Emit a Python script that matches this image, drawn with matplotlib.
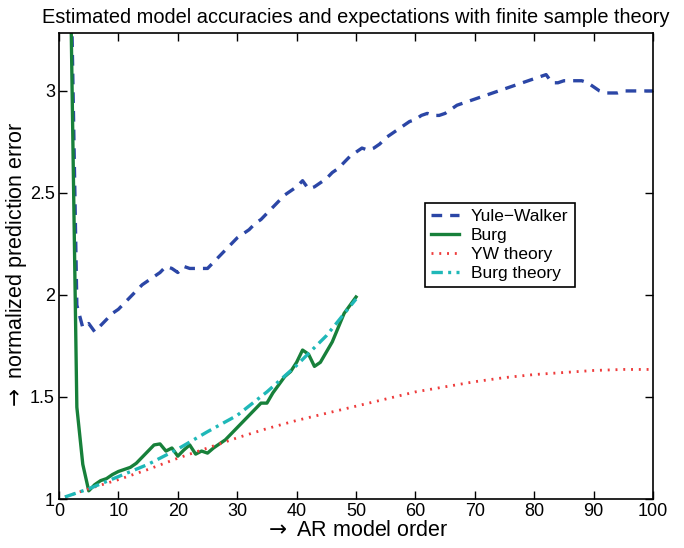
import matplotlib
matplotlib.use("Agg")
import matplotlib.pyplot as plt

plt.rcParams['font.family'] = ['Liberation Sans', 'DejaVu Sans']
plt.rcParams['mathtext.fontset'] = 'dejavusans'

# AR model orders
orders_yw = list(range(1, 101))
orders_burg = list(range(1, 51))

# Estimated normalized prediction error, Yule-Walker
yule_walker = [
    9.0, 3.6, 1.95, 1.84, 1.86, 1.82, 1.85, 1.88, 1.91, 1.93,
    1.96, 1.99, 2.02, 2.05, 2.07, 2.09, 2.11, 2.14, 2.13, 2.11,
    2.14, 2.13, 2.13, 2.13, 2.13, 2.16, 2.19, 2.22, 2.25, 2.28,
    2.30, 2.32, 2.35, 2.37, 2.40, 2.43, 2.46, 2.49, 2.51, 2.53,
    2.56, 2.52, 2.53, 2.55, 2.57, 2.60, 2.62, 2.65, 2.68, 2.70,
    2.72, 2.71, 2.72, 2.74, 2.77, 2.79, 2.81, 2.83, 2.85, 2.86,
    2.88, 2.89, 2.88, 2.88, 2.89, 2.91, 2.93, 2.94, 2.95, 2.96,
    2.97, 2.98, 2.99, 3.00, 3.01, 3.02, 3.03, 3.04, 3.05, 3.06,
    3.07, 3.08, 3.04, 3.04, 3.05, 3.05, 3.05, 3.05, 3.04, 3.02,
    3.00, 2.99, 2.99, 2.99, 3.00, 3.00, 3.00, 3.00, 3.00, 3.00,
]

# Estimated normalized prediction error, Burg
burg = [
    9.0, 3.4, 1.45, 1.17, 1.04, 1.07, 1.09, 1.10, 1.12, 1.135,
    1.145, 1.155, 1.175, 1.205, 1.235, 1.265, 1.27, 1.235, 1.25, 1.21,
    1.24, 1.265, 1.22, 1.235, 1.225, 1.25, 1.27, 1.29, 1.32, 1.35,
    1.38, 1.41, 1.44, 1.47, 1.47, 1.52, 1.56, 1.60, 1.625, 1.67,
    1.73, 1.71, 1.65, 1.67, 1.72, 1.77, 1.84, 1.91, 1.95, 1.99,
]

# Finite sample theory expectations
yw_theory_orders = [1, 5, 10, 15, 20, 25, 30, 35, 40, 45, 50,
                    55, 60, 65, 70, 75, 80, 85, 90, 95, 100]
yw_theory = [1.01, 1.05, 1.095, 1.145, 1.20, 1.25, 1.30, 1.345, 1.385, 1.42, 1.455,
             1.49, 1.525, 1.55, 1.575, 1.595, 1.61, 1.62, 1.63, 1.635, 1.635]

burg_theory_orders = [1, 5, 10, 15, 20, 25, 30, 35, 40, 45, 50]
burg_theory = [1.01, 1.05, 1.11, 1.17, 1.245, 1.33, 1.41, 1.525, 1.655, 1.80, 1.98]

x_ticks = [0, 10, 20, 30, 40, 50, 60, 70, 80, 90, 100]
y_ticks = [1, 1.5, 2, 2.5, 3]
y_tick_labels = ["1", "1.5", "2", "2.5", "3"]

fig = plt.figure(figsize=(6.84, 5.48), dpi=100)
ax = fig.add_axes([0.0863, 0.0894, 0.8684, 0.8504])

ax.plot(orders_yw, yule_walker, color='#2b46a6', lw=2.4,
        dashes=(3.2, 2.4), label='Yule\u2212Walker')
ax.plot(orders_burg, burg, color='#17803a', lw=2.4, label='Burg')
ax.plot(yw_theory_orders, yw_theory, color='#ee3b3b', lw=2.0,
        dashes=(0.7, 2.1), label='YW theory')
ax.plot(burg_theory_orders, burg_theory, color='#1fb8b8', lw=2.4,
        dashes=(3.4, 1.6, 0.9, 1.6), label='Burg theory')

ax.set_xlim(0, 100)
ax.set_ylim(1, 3.284)
ax.set_xticks(x_ticks)
ax.set_yticks(y_ticks)
ax.set_yticklabels(y_tick_labels)
ax.tick_params(direction='in', top=True, right=True, length=6, width=1,
               labelsize=13, pad=3)
for s in ax.spines.values():
    s.set_linewidth(1.2)

ax.set_title('Estimated model accuracies and expectations with finite sample theory',
             fontsize=14.4, pad=7)
ax.set_xlabel(r'$\rightarrow$ AR model order', fontsize=15.5, labelpad=0)
ax.set_ylabel(r'$\rightarrow$ normalized prediction error', fontsize=15.5, labelpad=1)

leg = ax.legend(loc='upper left', bbox_to_anchor=(0.616, 0.635), fontsize=12.5,
                fancybox=False, framealpha=1, edgecolor='black',
                handlelength=1.6, borderpad=0.35, labelspacing=0.22,
                handletextpad=0.7, borderaxespad=0)
leg.get_frame().set_linewidth(1.2)

fig.savefig('out.png', dpi=100)
